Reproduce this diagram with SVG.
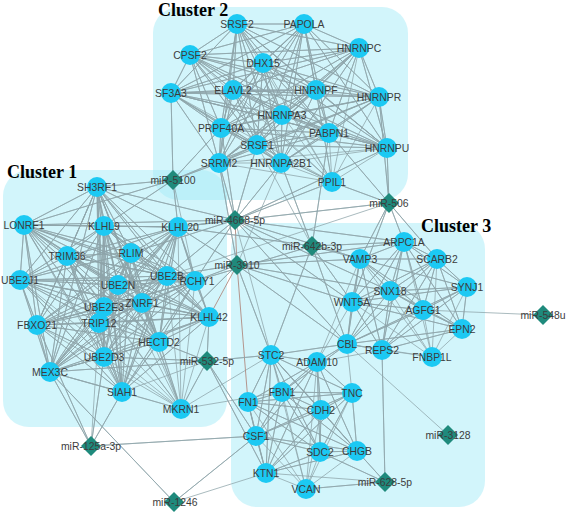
<svg xmlns="http://www.w3.org/2000/svg" xmlns:xlink="http://www.w3.org/1999/xlink" width="566" height="513" viewBox="0 0 566 513">
<style>
.bg{fill:#a6ebf8;opacity:0.5}
.cl{font-family:"Liberation Serif","Times New Roman",serif;font-weight:bold;font-size:18px;fill:#000}
.e{fill:none;stroke:#8ea4aa;stroke-width:0.9;stroke-opacity:0.85;stroke-linejoin:round}
.r{fill:none;stroke:#b08a80;stroke-width:0.9}
.g circle{fill:#1cc9f3}
.m use{fill:#1f8a7c}
text.l{font-family:"Liberation Sans",Arial,sans-serif;font-size:10.4px;fill:#3c3c3c;text-anchor:middle}
</style>
<defs>
<path id="dm" d="M0-10L10 0 0 10-10 0Z"/>
</defs>
<rect width="566" height="513" fill="#fff"/>
<g id="clusters">
<rect class="bg" x="153" y="7" width="255" height="193" rx="26"/>
<rect class="bg" x="3" y="170" width="224" height="257" rx="26"/>
<rect class="bg" x="231" y="223" width="254" height="284" rx="26"/>
<text class="cl" x="158" y="16">Cluster 2</text>
<text class="cl" x="7" y="178">Cluster 1</text>
<text class="cl" x="421" y="232">Cluster 3</text>
</g>
<g id="connectors">
<path class="e" d="M237 24L304 24 237 24 359 48 237 24 190 55 237 24 263 63 237 24 171 93 237 24 233 90 237 24 316 90 237 24 379 97 237 24 282 115 237 24 221 128 237 24 257 145 237 24 329 133 237 24 387 148 237 24 219 163 237 24 281 163 237 24 332 182"/>
<path class="e" d="M304 24L359 48 304 24 190 55 304 24 263 63 304 24 171 93 304 24 233 90 304 24 316 90 304 24 379 97 304 24 282 115 304 24 221 128 304 24 257 145 304 24 329 133 304 24 387 148 304 24 219 163 304 24 281 163 304 24 332 182"/>
<path class="e" d="M359 48L190 55 359 48 263 63 359 48 171 93 359 48 233 90 359 48 316 90 359 48 379 97 359 48 282 115 359 48 221 128 359 48 257 145 359 48 329 133 359 48 387 148 359 48 219 163 359 48 281 163 359 48 332 182"/>
<path class="e" d="M190 55L263 63 190 55 171 93 190 55 233 90 190 55 316 90 190 55 379 97 190 55 282 115 190 55 221 128 190 55 257 145 190 55 329 133 190 55 387 148 190 55 219 163 190 55 281 163 190 55 332 182"/>
<path class="e" d="M263 63L171 93 263 63 233 90 263 63 316 90 263 63 379 97 263 63 282 115 263 63 221 128 263 63 257 145 263 63 329 133 263 63 387 148 263 63 219 163 263 63 281 163 263 63 332 182"/>
<path class="e" d="M171 93L233 90 171 93 316 90 171 93 379 97 171 93 282 115 171 93 221 128 171 93 257 145 171 93 329 133 171 93 387 148 171 93 219 163 171 93 281 163 171 93 332 182"/>
<path class="e" d="M233 90L316 90 233 90 379 97 233 90 282 115 233 90 221 128 233 90 257 145 233 90 329 133 233 90 387 148 233 90 219 163 233 90 281 163 233 90 332 182"/>
<path class="e" d="M316 90L379 97 316 90 282 115 316 90 221 128 316 90 257 145 316 90 329 133 316 90 387 148 316 90 219 163 316 90 281 163 316 90 332 182"/>
<path class="e" d="M379 97L282 115 379 97 221 128 379 97 257 145 379 97 329 133 379 97 387 148 379 97 219 163 379 97 281 163 379 97 332 182"/>
<path class="e" d="M282 115L221 128 282 115 257 145 282 115 329 133 282 115 387 148 282 115 219 163 282 115 281 163 282 115 332 182"/>
<path class="e" d="M221 128L257 145 221 128 329 133 221 128 387 148 221 128 219 163 221 128 281 163 221 128 332 182"/>
<path class="e" d="M257 145L329 133 257 145 387 148 257 145 219 163 257 145 281 163 257 145 332 182"/>
<path class="e" d="M329 133L387 148 329 133 219 163 329 133 281 163 329 133 332 182M387 148L219 163M387 148L281 163M387 148L332 182M219 163L281 163M219 163L332 182M281 163L332 182"/>
<path class="e" d="M97 187L24 225 97 187 104 226 97 187 178 227 97 187 67 256 97 187 131 253 97 187 20 280 97 187 167 276 97 187 195 281 97 187 118 285 97 187 142 303 97 187 104 307 97 187 99 323 97 187 37 325 97 187 209 317 97 187 159 342 97 187 104 357 97 187 50 372 97 187 122 392 97 187 181 409"/>
<path class="e" d="M24 225L104 226 24 225 178 227 24 225 67 256 24 225 131 253 24 225 20 280 24 225 167 276 24 225 195 281 24 225 118 285 24 225 142 303 24 225 104 307 24 225 99 323 24 225 37 325 24 225 209 317 24 225 159 342 24 225 104 357 24 225 50 372 24 225 122 392"/>
<path class="e" d="M104 226L178 227 104 226 67 256 104 226 131 253 104 226 20 280 104 226 167 276 104 226 195 281 104 226 118 285 104 226 142 303 104 226 104 307 104 226 99 323 104 226 37 325 104 226 209 317 104 226 159 342 104 226 104 357 104 226 50 372 104 226 122 392 104 226 181 409"/>
<path class="e" d="M178 227L67 256 178 227 131 253 178 227 20 280 178 227 167 276 178 227 195 281 178 227 118 285 178 227 142 303 178 227 104 307 178 227 99 323 178 227 37 325 178 227 209 317 178 227 159 342 178 227 104 357 178 227 50 372 178 227 122 392 178 227 181 409"/>
<path class="e" d="M67 256L131 253 67 256 20 280 67 256 167 276 67 256 195 281 67 256 118 285 67 256 142 303 67 256 104 307 67 256 99 323 67 256 37 325 67 256 209 317 67 256 159 342 67 256 104 357 67 256 50 372 67 256 122 392 67 256 181 409"/>
<path class="e" d="M131 253L20 280 131 253 167 276 131 253 195 281 131 253 118 285 131 253 142 303 131 253 104 307 131 253 99 323 131 253 37 325 131 253 209 317 131 253 159 342 131 253 104 357 131 253 50 372 131 253 122 392 131 253 181 409"/>
<path class="e" d="M20 280L167 276 20 280 195 281 20 280 118 285 20 280 142 303 20 280 104 307 20 280 99 323 20 280 37 325 20 280 209 317 20 280 159 342 20 280 104 357 20 280 50 372 20 280 122 392 20 280 181 409"/>
<path class="e" d="M167 276L195 281 167 276 118 285 167 276 142 303 167 276 104 307 167 276 99 323 167 276 37 325 167 276 209 317 167 276 159 342 167 276 104 357 167 276 50 372 167 276 122 392 167 276 181 409"/>
<path class="e" d="M195 281L118 285 195 281 142 303 195 281 104 307 195 281 99 323 195 281 37 325 195 281 209 317 195 281 159 342 195 281 104 357 195 281 50 372 195 281 122 392 195 281 181 409"/>
<path class="e" d="M118 285L142 303 118 285 104 307 118 285 99 323 118 285 37 325 118 285 209 317 118 285 159 342 118 285 104 357 118 285 50 372 118 285 122 392 118 285 181 409"/>
<path class="e" d="M142 303L104 307 142 303 99 323 142 303 37 325 142 303 209 317 142 303 159 342 142 303 104 357 142 303 50 372 142 303 122 392 142 303 181 409"/>
<path class="e" d="M104 307L99 323 104 307 37 325 104 307 209 317 104 307 159 342 104 307 104 357 104 307 50 372 104 307 122 392 104 307 181 409"/>
<path class="e" d="M99 323L37 325 99 323 209 317 99 323 159 342 99 323 104 357 99 323 50 372 99 323 122 392 99 323 181 409"/>
<path class="e" d="M37 325L209 317 37 325 159 342 37 325 104 357 37 325 50 372 37 325 122 392 37 325 181 409"/>
<path class="e" d="M209 317L159 342 209 317 104 357 209 317 50 372 209 317 122 392 209 317 181 409M159 342L104 357 159 342 50 372 159 342 122 392 159 342 181 409M104 357L50 372 104 357 122 392 104 357 181 409M50 372L122 392 50 372 181 409M122 392L181 409"/>
<path class="e" d="M404 242L360 259 404 242 437 259 404 242 467 287 404 242 390 291 404 242 352 302 404 242 423 310 404 242 462 329 404 242 347 344 404 242 382 350 404 242 432 357"/>
<path class="e" d="M360 259L437 259 360 259 467 287 360 259 390 291 360 259 352 302 360 259 423 310 360 259 462 329 360 259 347 344 360 259 382 350 360 259 432 357"/>
<path class="e" d="M437 259L467 287 437 259 390 291 437 259 352 302 437 259 423 310 437 259 462 329 437 259 347 344 437 259 382 350 437 259 432 357"/>
<path class="e" d="M467 287L390 291 467 287 352 302 467 287 423 310 467 287 462 329 467 287 347 344 467 287 382 350 467 287 432 357"/>
<path class="e" d="M390 291L352 302 390 291 423 310 390 291 462 329 390 291 347 344 390 291 382 350 390 291 432 357M352 302L423 310 352 302 462 329 352 302 347 344 352 302 382 350 352 302 432 357"/>
<path class="e" d="M423 310L462 329 423 310 347 344 423 310 382 350 423 310 432 357M462 329L347 344 462 329 382 350 462 329 432 357M347 344L382 350 347 344 432 357M382 350L432 357"/>
<path class="e" d="M271 355L317 362 271 355 282 392 271 355 352 393 271 355 248 402 271 355 321 410 271 355 256 436 271 355 320 452 271 355 357 451 271 355 266 473 271 355 306 489"/>
<path class="e" d="M317 362L282 392 317 362 352 393 317 362 248 402 317 362 321 410 317 362 256 436 317 362 320 452 317 362 357 451 317 362 266 473 317 362 306 489"/>
<path class="e" d="M282 392L352 393 282 392 248 402 282 392 321 410 282 392 256 436 282 392 320 452 282 392 357 451 282 392 266 473 282 392 306 489"/>
<path class="e" d="M352 393L248 402 352 393 321 410 352 393 256 436 352 393 320 452 352 393 357 451 352 393 266 473 352 393 306 489"/>
<path class="e" d="M248 402L321 410 248 402 256 436 248 402 320 452 248 402 357 451 248 402 266 473 248 402 306 489M321 410L256 436 321 410 320 452 321 410 357 451 321 410 266 473 321 410 306 489"/>
<path class="e" d="M256 436L320 452 256 436 357 451 256 436 266 473 256 436 306 489M320 452L357 451 320 452 266 473 320 452 306 489M357 451L266 473 357 451 306 489M266 473L306 489"/>
<path class="e" d="M347 344L271 355 347 344 317 362 347 344 282 392 347 344 352 393M382 350L317 362M352 302L317 362M360 259L317 362M181 409L282 392M181 409L271 355"/>
<path class="e" d="M173 180L171 93 173 180 219 163 173 180 257 145 173 180 97 187 173 180 104 226 173 180 178 227 173 180 24 225 173 180 221 128 173 180 195 281"/>
<path class="e" d="M235 220L219 163 235 220 257 145 235 220 281 163 235 220 332 182 235 220 221 128 235 220 178 227 235 220 24 225 235 220 131 253 235 220 167 276 235 220 195 281 235 220 97 187 235 220 387 148 235 220 360 259 235 220 404 242 235 220 390 291 235 220 347 344 235 220 352 302 235 220 271 355"/>
<path class="e" d="M237 265L195 281 237 265 167 276 237 265 159 342 237 265 178 227 237 265 360 259 237 265 390 291 237 265 352 302 237 265 347 344 237 265 271 355 237 265 404 242 237 265 219 163 237 265 281 163"/>
<path class="r" d="M235 220L237 265 209 317M237 265L248 402"/>
<path class="e" d="M389 203L387 148 389 203 332 182 389 203 379 97 389 203 329 133 389 203 404 242 389 203 360 259 389 203 352 302 389 203 437 259 389 203 178 227 389 203 167 276"/>
<path class="e" d="M312 246L329 133 312 246 281 163 312 246 404 242 312 246 360 259 312 246 352 302 312 246 347 344 312 246 271 355 312 246 195 281 312 246 178 227 312 246 257 145"/>
<path class="e" d="M207 361L159 342 207 361 209 317 207 361 181 409 207 361 104 357 207 361 50 372 207 361 271 355 207 361 266 473 207 361 256 436 207 361 122 392"/>
<path class="e" d="M91 446L50 372 91 446 104 357 91 446 122 392 91 446 256 436 91 446 37 325 91 446 99 323M174 502L50 372 174 502 256 436 174 502 266 473"/>
<path class="e" d="M543 315L423 310M448 435L347 344M385 482L382 350 385 482 306 489 385 482 320 452 385 482 357 451 385 482 266 473"/>
</g>
<g class="m">
<g id="miR-5100"><use xlink:href="#dm" href="#dm" x="173" y="180"/><text class="l" x="173" y="184">miR-5100</text></g>
<g id="miR-4668-5p"><use xlink:href="#dm" href="#dm" x="235" y="220"/><text class="l" x="235" y="224">miR-4668-5p</text></g>
<g id="miR-3910"><use xlink:href="#dm" href="#dm" x="237" y="265"/><text class="l" x="237" y="269">miR-3910</text></g>
<g id="miR-506"><use xlink:href="#dm" href="#dm" x="389" y="203"/><text class="l" x="389" y="207">miR-506</text></g>
<g id="miR-642b-3p"><use xlink:href="#dm" href="#dm" x="312" y="246"/><text class="l" x="312" y="250">miR-642b-3p</text></g>
<g id="miR-532-5p"><use xlink:href="#dm" href="#dm" x="207" y="361"/><text class="l" x="207" y="365">miR-532-5p</text></g>
<g id="miR-125a-3p"><use xlink:href="#dm" href="#dm" x="91" y="446"/><text class="l" x="91" y="450">miR-125a-3p</text></g>
<g id="miR-1246"><use xlink:href="#dm" href="#dm" x="174" y="502"/><text class="l" x="175" y="506">miR-1246</text></g>
<g id="miR-548u"><use xlink:href="#dm" href="#dm" x="543" y="315"/><text class="l" x="543" y="319">miR-548u</text></g>
<g id="miR-3128"><use xlink:href="#dm" href="#dm" x="448" y="435"/><text class="l" x="448" y="439">miR-3128</text></g>
<g id="miR-628-5p"><use xlink:href="#dm" href="#dm" x="385" y="482"/><text class="l" x="385" y="486">miR-628-5p</text></g>
</g>
<g class="g">
<g id="SRSF2"><circle cx="237" cy="24" r="10"/><text class="l" x="237" y="28">SRSF2</text></g>
<g id="PAPOLA"><circle cx="304" cy="24" r="10"/><text class="l" x="304" y="28">PAPOLA</text></g>
<g id="HNRNPC"><circle cx="359" cy="48" r="10"/><text class="l" x="359" y="52">HNRNPC</text></g>
<g id="CPSF2"><circle cx="190" cy="55" r="10"/><text class="l" x="190" y="59">CPSF2</text></g>
<g id="DHX15"><circle cx="263" cy="63" r="10"/><text class="l" x="263" y="67">DHX15</text></g>
<g id="SF3A3"><circle cx="171" cy="93" r="10"/><text class="l" x="171" y="97">SF3A3</text></g>
<g id="ELAVL2"><circle cx="233" cy="90" r="10"/><text class="l" x="233" y="94">ELAVL2</text></g>
<g id="HNRNPF"><circle cx="316" cy="90" r="10"/><text class="l" x="316" y="94">HNRNPF</text></g>
<g id="HNRNPR"><circle cx="379" cy="97" r="10"/><text class="l" x="379" y="101">HNRNPR</text></g>
<g id="HNRNPA3"><circle cx="282" cy="115" r="10"/><text class="l" x="282" y="119">HNRNPA3</text></g>
<g id="PRPF40A"><circle cx="221" cy="128" r="10"/><text class="l" x="221" y="132">PRPF40A</text></g>
<g id="SRSF1"><circle cx="257" cy="145" r="10"/><text class="l" x="257" y="149">SRSF1</text></g>
<g id="PABPN1"><circle cx="329" cy="133" r="10"/><text class="l" x="329" y="137">PABPN1</text></g>
<g id="HNRNPU"><circle cx="387" cy="148" r="10"/><text class="l" x="387" y="152">HNRNPU</text></g>
<g id="SRRM2"><circle cx="219" cy="163" r="10"/><text class="l" x="219" y="167">SRRM2</text></g>
<g id="HNRNPA2B1"><circle cx="281" cy="163" r="10"/><text class="l" x="281" y="167">HNRNPA2B1</text></g>
<g id="PPIL1"><circle cx="332" cy="182" r="10"/><text class="l" x="332" y="186">PPIL1</text></g>
<g id="SH3RF1"><circle cx="97" cy="187" r="10"/><text class="l" x="97" y="191">SH3RF1</text></g>
<g id="LONRF1"><circle cx="24" cy="225" r="10"/><text class="l" x="24" y="229">LONRF1</text></g>
<g id="KLHL9"><circle cx="104" cy="226" r="10"/><text class="l" x="104" y="230">KLHL9</text></g>
<g id="KLHL20"><circle cx="178" cy="227" r="10"/><text class="l" x="180" y="231">KLHL20</text></g>
<g id="TRIM36"><circle cx="67" cy="256" r="10"/><text class="l" x="67" y="260">TRIM36</text></g>
<g id="RLIM"><circle cx="131" cy="253" r="10"/><text class="l" x="131" y="257">RLIM</text></g>
<g id="UBE2J1"><circle cx="20" cy="280" r="10"/><text class="l" x="20" y="284">UBE2J1</text></g>
<g id="UBE2B"><circle cx="167" cy="276" r="10"/><text class="l" x="167" y="280">UBE2B</text></g>
<g id="RCHY1"><circle cx="195" cy="281" r="10"/><text class="l" x="197" y="285">RCHY1</text></g>
<g id="UBE2N"><circle cx="118" cy="285" r="10"/><text class="l" x="118" y="289">UBE2N</text></g>
<g id="ZNRF1"><circle cx="142" cy="303" r="10"/><text class="l" x="142" y="307">ZNRF1</text></g>
<g id="UBE2E3"><circle cx="104" cy="307" r="10"/><text class="l" x="104" y="311">UBE2E3</text></g>
<g id="TRIP12"><circle cx="99" cy="323" r="10"/><text class="l" x="99" y="327">TRIP12</text></g>
<g id="FBXO21"><circle cx="37" cy="325" r="10"/><text class="l" x="37" y="329">FBXO21</text></g>
<g id="KLHL42"><circle cx="209" cy="317" r="10"/><text class="l" x="209" y="321">KLHL42</text></g>
<g id="HECTD2"><circle cx="159" cy="342" r="10"/><text class="l" x="159" y="346">HECTD2</text></g>
<g id="UBE2D3"><circle cx="104" cy="357" r="10"/><text class="l" x="104" y="361">UBE2D3</text></g>
<g id="MEX3C"><circle cx="50" cy="372" r="10"/><text class="l" x="50" y="376">MEX3C</text></g>
<g id="SIAH1"><circle cx="122" cy="392" r="10"/><text class="l" x="122" y="396">SIAH1</text></g>
<g id="MKRN1"><circle cx="181" cy="409" r="10"/><text class="l" x="181" y="413">MKRN1</text></g>
<g id="ARPC1A"><circle cx="404" cy="242" r="10"/><text class="l" x="404" y="246">ARPC1A</text></g>
<g id="VAMP3"><circle cx="360" cy="259" r="10"/><text class="l" x="360" y="263">VAMP3</text></g>
<g id="SCARB2"><circle cx="437" cy="259" r="10"/><text class="l" x="437" y="263">SCARB2</text></g>
<g id="SYNJ1"><circle cx="467" cy="287" r="10"/><text class="l" x="467" y="291">SYNJ1</text></g>
<g id="SNX18"><circle cx="390" cy="291" r="10"/><text class="l" x="390" y="295">SNX18</text></g>
<g id="WNT5A"><circle cx="352" cy="302" r="10"/><text class="l" x="352" y="306">WNT5A</text></g>
<g id="AGFG1"><circle cx="423" cy="310" r="10"/><text class="l" x="423" y="314">AGFG1</text></g>
<g id="EPN2"><circle cx="462" cy="329" r="10"/><text class="l" x="462" y="333">EPN2</text></g>
<g id="CBL"><circle cx="347" cy="344" r="10"/><text class="l" x="347" y="348">CBL</text></g>
<g id="REPS2"><circle cx="382" cy="350" r="10"/><text class="l" x="382" y="354">REPS2</text></g>
<g id="FNBP1L"><circle cx="432" cy="357" r="10"/><text class="l" x="432" y="361">FNBP1L</text></g>
<g id="STC2"><circle cx="271" cy="355" r="10"/><text class="l" x="271" y="359">STC2</text></g>
<g id="ADAM10"><circle cx="317" cy="362" r="10"/><text class="l" x="317" y="366">ADAM10</text></g>
<g id="FBN1"><circle cx="282" cy="392" r="10"/><text class="l" x="282" y="396">FBN1</text></g>
<g id="TNC"><circle cx="352" cy="393" r="10"/><text class="l" x="352" y="397">TNC</text></g>
<g id="FN1"><circle cx="248" cy="402" r="10"/><text class="l" x="248" y="406">FN1</text></g>
<g id="CDH2"><circle cx="321" cy="410" r="10"/><text class="l" x="321" y="414">CDH2</text></g>
<g id="CSF1"><circle cx="256" cy="436" r="10"/><text class="l" x="256" y="440">CSF1</text></g>
<g id="SDC2"><circle cx="320" cy="452" r="10"/><text class="l" x="320" y="456">SDC2</text></g>
<g id="CHGB"><circle cx="357" cy="451" r="10"/><text class="l" x="357" y="455">CHGB</text></g>
<g id="KTN1"><circle cx="266" cy="473" r="10"/><text class="l" x="266" y="477">KTN1</text></g>
<g id="VCAN"><circle cx="306" cy="489" r="10"/><text class="l" x="306" y="493">VCAN</text></g>
</g>
</svg>
